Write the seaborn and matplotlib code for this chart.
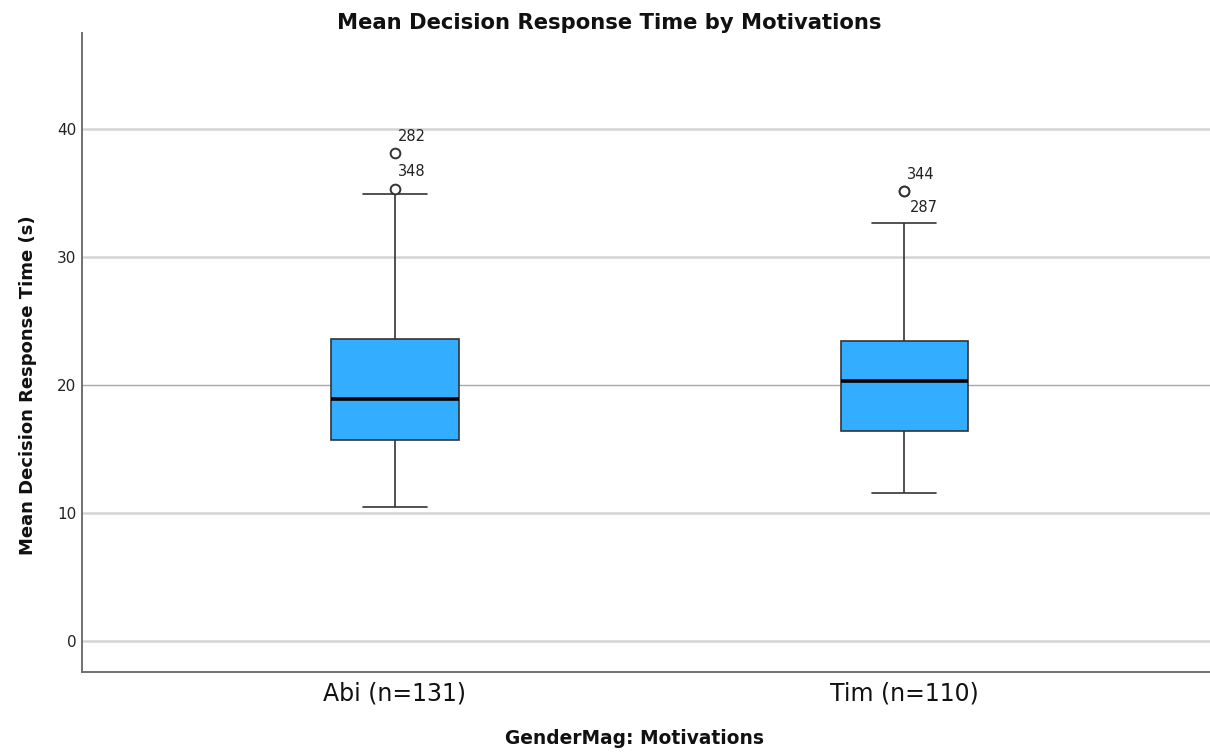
import matplotlib
matplotlib.use("Agg")
import matplotlib.pyplot as plt
import seaborn as sns
import pandas as pd

# Five-number summaries per group (seconds)
groups = ["Abi (n=131)", "Tim (n=110)"]
whisker_low = [10.45, 11.55]
q1 = [15.75, 16.45]
medians = [18.95, 20.35]
q3 = [23.6, 23.45]
whisker_high = [34.9, 32.65]

# Outlying cases with their case numbers
outlier_group = ["Abi (n=131)", "Abi (n=131)", "Tim (n=110)", "Tim (n=110)"]
outlier_value = [38.1, 35.35, 35.15, 35.15]
outlier_case = ["282", "348", "344", "287"]
outlier_label_offset = [(3, 17), (3, 17), (3, 17), (6, -16)]

y_ticks = [0, 10, 20, 30, 40]

sns.set_theme(style="white")
plt.rcParams["font.family"] = ["DejaVu Sans"]

rows = []
for g, lo, a, m, b, hi in zip(groups, whisker_low, q1, medians, q3, whisker_high):
    for v in (lo, a, m, b, hi):
        rows.append({"group": g, "value": v})
summary = pd.DataFrame(rows)
outliers = pd.DataFrame({"group": outlier_group, "value": outlier_value})

fig = plt.figure(figsize=(12.1, 7.52), dpi=100)
ax = fig.add_axes([0.0678, 0.1064, 0.9322, 0.8496])

for y in y_ticks:
    if y == 20:
        ax.axhline(y, color="#a8a8a8", lw=1.0, zorder=0)
    else:
        ax.axhline(y, color="#d4d4d4", lw=1.8, zorder=0)

sns.boxplot(
    data=summary, x="group", y="value", order=groups,
    whis=(0, 100), width=0.25, color="#33adff", saturation=1,
    linecolor="#333333", linewidth=1.2, fliersize=0,
    medianprops={"color": "black", "linewidth": 2.6},
    ax=ax, zorder=2,
)

sns.stripplot(
    data=outliers, x="group", y="value", order=groups,
    jitter=False, size=7, color="white", edgecolor="#333333",
    linewidth=1.4, ax=ax, zorder=3,
)

for g, v, case, off in zip(outlier_group, outlier_value, outlier_case, outlier_label_offset):
    xi = groups.index(g)
    ax.annotate(case, (xi, v), xytext=off, textcoords="offset pixels",
                ha="left", va="center", fontsize=10.5, color="#222222")

ax.set_xlim(-0.614, 1.6)
ax.set_ylim(-2.4, 47.5)
ax.set_yticks(y_ticks)
ax.tick_params(axis="both", length=0)
ax.tick_params(axis="y", labelsize=11, colors="#222222", pad=4)
ax.tick_params(axis="x", labelsize=17, colors="#111111", pad=7)

for side in ("top", "right"):
    ax.spines[side].set_visible(False)
for side in ("left", "bottom"):
    ax.spines[side].set_color("#707070")
    ax.spines[side].set_linewidth(1.4)

ax.set_title("Mean Decision Response Time by Motivations",
             fontsize=15.2, fontweight="bold", pad=3, x=0.467, color="#111111")
ax.set_ylabel("Mean Decision Response Time (s)", fontsize=13,
              fontweight="bold", color="#111111")
ax.set_xlabel("GenderMag: Motivations", fontsize=13.4, fontweight="bold",
              color="#111111")
ax.yaxis.set_label_coords(-0.040, 0.449)
ax.xaxis.set_label_coords(0.490, -0.089)

fig.savefig("out.png", dpi=100, facecolor="white")
